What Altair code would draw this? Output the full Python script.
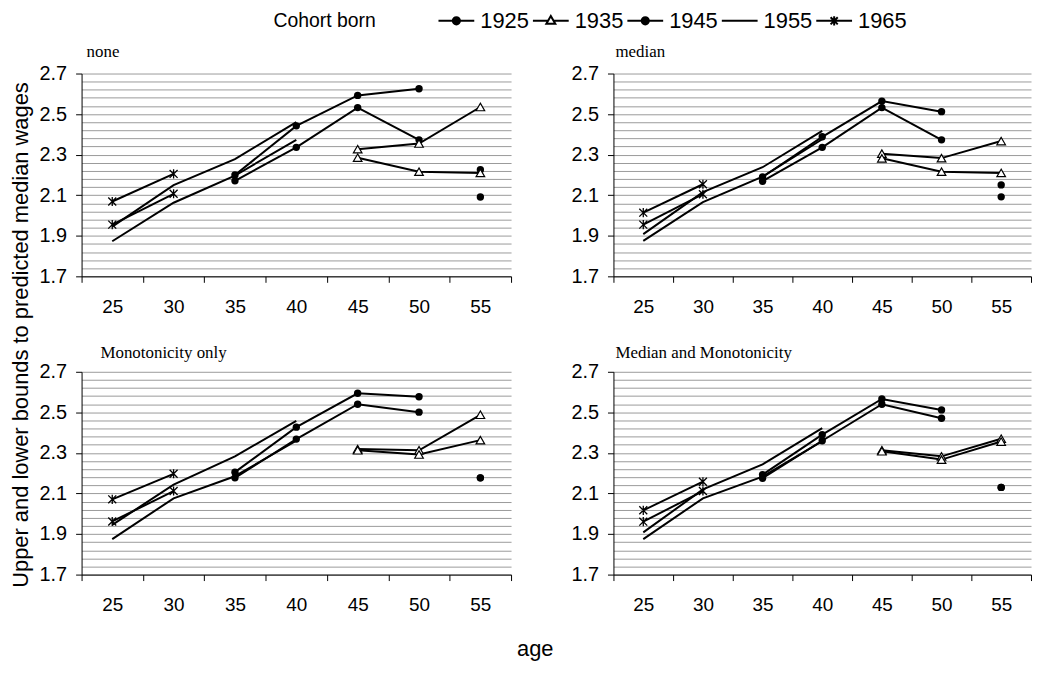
import altair as alt
import pandas as pd

# ---------------- data ----------------
PANELS = ["none", "median", "Monotonicity only", "Median and Monotonicity"]
AGES = [25, 30, 35, 40, 45, 50, 55]
COHORTS = [1925, 1935, 1945, 1955, 1965]

# each position = one (cohort, age) observation
SERIES_COHORT = [1965, 1965, 1955, 1955, 1955, 1955, 1945, 1945, 1945, 1945, 1935, 1935, 1935, 1925]
SERIES_AGE = [25, 30, 25, 30, 35, 40, 35, 40, 45, 50, 45, 50, 55, 55]

NONE_UPPER = [2.069, 2.205, 1.945, 2.150, 2.278, 2.460, 2.200, 2.442, 2.592, 2.625, 2.327, 2.355, 2.535, 2.226]
NONE_LOWER = [1.955, 2.107, 1.873, 2.063, 2.197, 2.373, 2.171, 2.336, 2.532, 2.373, 2.285, 2.216, 2.210, 2.091]

MEDIAN_UPPER = [2.014, 2.154, 1.908, 2.115, 2.238, 2.417, 2.190, 2.388, 2.564, 2.512, 2.305, 2.283, 2.367, 2.151]
MEDIAN_LOWER = [1.955, 2.105, 1.875, 2.066, 2.192, 2.376, 2.169, 2.336, 2.532, 2.373, 2.282, 2.216, 2.210, 2.092]

MONO_UPPER = [2.071, 2.197, 1.945, 2.144, 2.283, 2.458, 2.205, 2.427, 2.594, 2.577, 2.319, 2.313, 2.488, 2.177]
MONO_LOWER = [1.962, 2.112, 1.875, 2.076, 2.185, 2.360, 2.177, 2.368, 2.540, 2.501, 2.313, 2.292, 2.363, 2.177]

MEDMONO_UPPER = [2.017, 2.158, 1.908, 2.120, 2.243, 2.422, 2.193, 2.390, 2.566, 2.512, 2.313, 2.283, 2.370, 2.130]
MEDMONO_LOWER = [1.961, 2.112, 1.875, 2.076, 2.183, 2.358, 2.175, 2.360, 2.540, 2.471, 2.308, 2.267, 2.356, 2.130]

PANEL_VALUES = {
    "none": (NONE_UPPER, NONE_LOWER),
    "median": (MEDIAN_UPPER, MEDIAN_LOWER),
    "Monotonicity only": (MONO_UPPER, MONO_LOWER),
    "Median and Monotonicity": (MEDMONO_UPPER, MEDMONO_LOWER),
}

rows = []
for p in PANELS:
    up, lo = PANEL_VALUES[p]
    for bound, vals in (("upper", up), ("lower", lo)):
        for c, a, v in zip(SERIES_COHORT, SERIES_AGE, vals):
            rows.append({"panel": p, "cohort": c, "age": a, "bound": bound,
                         "value": v, "series": f"{c}-{bound}"})
df = pd.DataFrame(rows)

# ---------------- styling ----------------
SANS = "Liberation Sans"
SERIF = "Liberation Serif"
Y_VALUES = [round(1.7 + 0.04 * i, 2) for i in range(26)]
MAJOR = "abs((datum.value-1.7)/0.2 - round((datum.value-1.7)/0.2)) < 0.01"

STAR = "M-1,-1L1,1M-1,1L1,-1M0,-1.15L0,1.15"
# legend symbols: 20px nominal box, drawn 36px wide
LEG_DOT = "M-1.8,0L1.8,0M-0.36,0A0.36,0.36,0,1,0,0.36,0A0.36,0.36,0,1,0,-0.36,0Z"
LEG_TRI = "M-1.8,0L-0.27,0M0.27,0L1.8,0M0,-0.48L0.45,0.3L-0.45,0.3Z"
LEG_LINE = "M-1.8,0L1.8,0"
LEG_STAR = "M-1.8,0L1.8,0M-0.36,-0.36L0.36,0.36M-0.36,0.36L0.36,-0.36M0,-0.46L0,0.46"

legend = alt.Legend(
    title="Cohort born", orient="none", direction="horizontal",
    legendX=193, legendY=-64, titleOrient="left", titleBaseline="middle",
    titleAnchor="middle",
    titleFont=SANS, titleFontSize=19.5, titleFontWeight="normal", titleColor="black",
    titlePadding=70, labelFont=SANS, labelFontSize=22, labelColor="black",
    labelOffset=13, columnPadding=0, symbolSize=400, symbolStrokeWidth=2,
    symbolStrokeColor="black", symbolOpacity=1,
)


def panel(name, width, title_dx, title_offset, with_legend=False):
    d = df[df.panel == name]
    base = alt.Chart(d).encode(
        x=alt.X("age:O",
                scale=alt.Scale(type="band", domain=AGES, paddingInner=0, paddingOuter=0),
                axis=alt.Axis(title=None, tickBand="extent", labelAngle=0,
                              labelFont=SANS, labelFontSize=19, labelColor="black",
                              labelPadding=15, tickSize=6, tickColor="black",
                              domainColor="black", grid=False)),
        y=alt.Y("value:Q",
                scale=alt.Scale(domain=[1.7, 2.7], nice=False, zero=False),
                axis=alt.Axis(title=None, values=Y_VALUES, grid=True,
                              gridColor="#9a9a9a", gridWidth=1,
                              labelExpr=f"{MAJOR} ? format(datum.value, '.1f') : ''",
                              labelFont=SANS, labelFontSize=20, labelColor="black",
                              labelPadding=9, tickSize=6,
                              tickColor={"condition": {"test": MAJOR, "value": "black"},
                                         "value": "transparent"},
                              domainColor="black")),
    )
    lines = base.mark_line(color="black", strokeWidth=2).encode(detail="series:N")
    dots = base.transform_filter("datum.cohort == 1925 || datum.cohort == 1945").mark_point(
        shape="circle", filled=True, color="black", size=55, opacity=1)
    tris = base.transform_filter("datum.cohort == 1935").mark_point(
        shape="triangle-up", filled=True, fill="white", stroke="black",
        strokeWidth=1.2, size=75, opacity=1)
    stars = base.transform_filter("datum.cohort == 1965").mark_point(
        shape=STAR, filled=False, stroke="black", strokeWidth=1.3, size=64, opacity=1)
    layers = [lines, dots, tris, stars]
    if with_legend:
        dummy = base.transform_filter("false").mark_point(
            strokeWidth=2, opacity=1).encode(
            shape=alt.Shape("cohort:N", scale=alt.Scale(
                domain=COHORTS, range=[LEG_DOT, LEG_TRI, LEG_DOT, LEG_LINE, LEG_STAR]),
                legend=legend),
            fill=alt.Fill("cohort:N", scale=alt.Scale(
                domain=COHORTS, range=["black", "white", "black", "black", "black"]),
                legend=legend),
            stroke=alt.Stroke("cohort:N", scale=alt.Scale(
                domain=COHORTS, range=["black", "black", "black", "black", "black"]),
                legend=legend),
        )
        layers.append(dummy)
    return alt.layer(*layers).properties(
        width=width, height=204,
        title=alt.TitleParams(name, anchor="start", frame="group", font=SERIF, fontSize=17,
                              fontWeight="normal", color="black", dx=title_dx,
                              offset=title_offset),
    )


row1 = alt.hconcat(panel("none", 432, 5, 3, True), panel("median", 420, 2, 3), spacing=59)
row2 = alt.hconcat(panel("Monotonicity only", 432, 19, 0),
                   panel("Median and Monotonicity", 420, 2, 0),
                   spacing=59).properties(
    title=alt.TitleParams("age", orient="bottom", anchor="middle", font=SANS, fontSize=22,
                          fontWeight="normal", color="black", offset=25))

chart = alt.vconcat(row1, row2, spacing=28).properties(
    title=alt.TitleParams("Upper and lower bounds to predicted median wages", orient="left",
                          anchor="middle", font=SANS, fontSize=22, fontWeight="normal",
                          color="black", offset=6),
    padding={"left": 2, "top": 0, "right": 0, "bottom": 0},
).configure_view(stroke=None)

chart.save("out.html", embed_options={"renderer": "svg", "actions": False})
